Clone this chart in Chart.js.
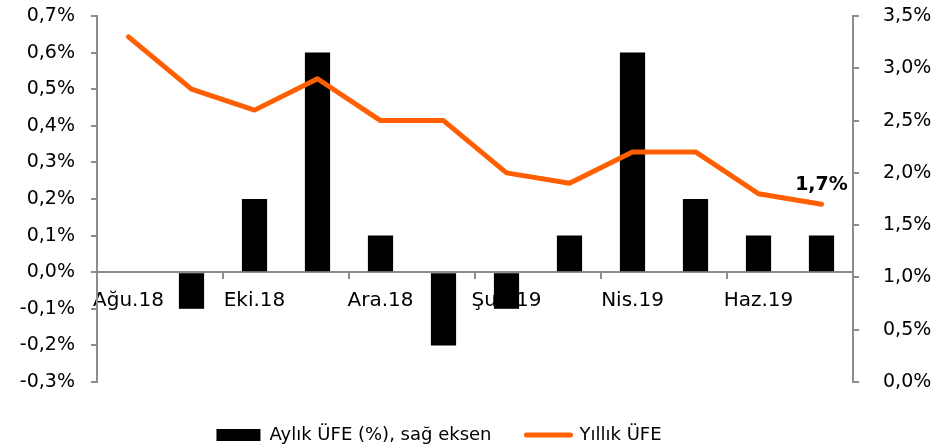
<!DOCTYPE html>
<html>
<head>
<meta charset="utf-8">
<script src="https://cdn.jsdelivr.net/npm/chart.js@4/dist/chart.umd.min.js"></script>
<style>
	html, body { margin: 0; padding: 0; background: #fff; }
	#wrap { width: 942px; height: 448px; position: relative; }
</style>
</head>
<body>
<div id="wrap"><canvas id="chart"></canvas></div>
<script>
const months = ['Ağu.18', 'Eyl.18', 'Eki.18', 'Kas.18', 'Ara.18', 'Oca.19', 'Şub.19', 'Mar.19', 'Nis.19', 'May.19', 'Haz.19', 'Tem.19'];
const monthlyPpi = [0.0, -0.1, 0.2, 0.6, 0.1, -0.2, -0.1, 0.1, 0.6, 0.2, 0.1, 0.1];
const annualPpi = [3.3, 2.8, 2.6, 2.9, 2.5, 2.5, 2.0, 1.9, 2.2, 2.2, 1.8, 1.7];
const lastLabel = '1,7%';

const FONT = "'DejaVu Sans', sans-serif";
const AXIS_GREY = '#8c8c8c';
const ORANGE = '#ff5f00';

function pct(v) {
	return v.toFixed(1).replace('.', ',') + '%';
}

// draw the "1,7%" label above the last point of the line
const lastPointLabel = {
	id: 'lastPointLabel',
	afterDatasetsDraw(chart) {
		const meta = chart.getDatasetMeta(1);
		const pt = meta.data[meta.data.length - 1];
		const ctx = chart.ctx;
		ctx.save();
		ctx.font = 'bold 19px ' + FONT;
		ctx.fillStyle = '#000';
		ctx.textAlign = 'center';
		ctx.textBaseline = 'bottom';
		ctx.fillText(lastLabel, pt.x, pt.y - 10);
		ctx.restore();
	}
};

// fixed legend height so the plot area ends where the original does,
// then move the legend row a bit down and to the left
const legendPlace = {
	id: 'legendPlace',
	afterInit(chart) {
		const legend = chart.legend;
		const fit = legend.fit;
		legend.fit = function () {
			fit.call(this);
			this.height = 66;
		};
	},
	afterLayout(chart) {
		const legend = chart.legend;
		legend.top += 9;
		legend.bottom += 9;
		legend.left -= 32;
		legend.right -= 32;
		legend.adjustHitBoxes();
	}
};

function noVerticalPadding(s) {
	s.paddingTop = 0;
	s.paddingBottom = 0;
}

new Chart(document.getElementById('chart'), {
	type: 'bar',
	data: {
		labels: months,
		datasets: [{
			type: 'bar',
			label: 'Aylık ÜFE (%), sağ eksen',
			data: monthlyPpi,
			backgroundColor: '#000',
			borderWidth: 0,
			barPercentage: 0.4,
			categoryPercentage: 1,
			yAxisID: 'yLeft',
			order: 2
		}, {
			type: 'line',
			label: 'Yıllık ÜFE',
			data: annualPpi,
			borderColor: ORANGE,
			backgroundColor: ORANGE,
			borderWidth: 5,
			borderJoinStyle: 'round',
			borderCapStyle: 'round',
			pointRadius: 0,
			tension: 0,
			yAxisID: 'yRight',
			order: 1
		}]
	},
	options: {
		responsive: true,
		maintainAspectRatio: false,
		animation: false,
		layout: { padding: { top: 16, bottom: 0, left: 0, right: 0 } },
		plugins: {
			tooltip: { enabled: false },
			legend: {
				position: 'bottom',
				labels: {
					font: { family: FONT, size: 18 },
					color: '#000',
					usePointStyle: true,
					pointStyleWidth: 44,
					boxHeight: 12,
					padding: 35,
					generateLabels(chart) {
						return chart.data.datasets.map((ds, i) => ({
							text: ds.label,
							fillStyle: ds.type === 'line' ? ORANGE : '#000',
							strokeStyle: ds.type === 'line' ? ORANGE : '#000',
							lineWidth: ds.type === 'line' ? 5 : 0,
							lineCap: 'round',
							pointStyle: ds.type === 'line' ? 'line' : 'rect',
							datasetIndex: i,
							hidden: false
						}));
					}
				}
			}
		},
		scales: {
			x: {
				position: { yLeft: 0 },
				offset: true,
				border: { color: AXIS_GREY, width: 2 },
				grid: {
					offset: true,
					drawOnChartArea: false,
					tickLength: 6,
					lineWidth: 2,
					color: (c) => (c.index % 2 === 0 ? AXIS_GREY : 'rgba(0,0,0,0)')
				},
				ticks: {
					autoSkip: false,
					maxRotation: 0,
					font: { family: FONT, size: 20 },
					color: '#000',
					padding: 11,
					callback: (v, i) => (i % 2 === 0 ? months[i] : '')
				}
			},
			yLeft: {
				position: 'left',
				min: -0.3,
				max: 0.7,
				afterFit: (s) => { s.width = 97; noVerticalPadding(s); },
				border: { color: AXIS_GREY, width: 2 },
				grid: { drawOnChartArea: false, tickLength: 6, lineWidth: 2, color: AXIS_GREY },
				ticks: {
					stepSize: 0.1,
					font: { family: FONT, size: 19 },
					color: '#000',
					padding: 16,
					callback: (v) => pct(v)
				}
			},
			yRight: {
				position: 'right',
				min: 0,
				max: 3.5,
				afterFit: (s) => { s.width = 89; noVerticalPadding(s); },
				border: { color: AXIS_GREY, width: 2 },
				grid: { drawOnChartArea: false, tickLength: 6, lineWidth: 2, color: AXIS_GREY },
				ticks: {
					stepSize: 0.5,
					font: { family: FONT, size: 19 },
					color: '#000',
					padding: 24,
					callback: (v) => pct(v)
				}
			}
		}
	},
	plugins: [lastPointLabel, legendPlace]
});
</script>
</body>
</html>
